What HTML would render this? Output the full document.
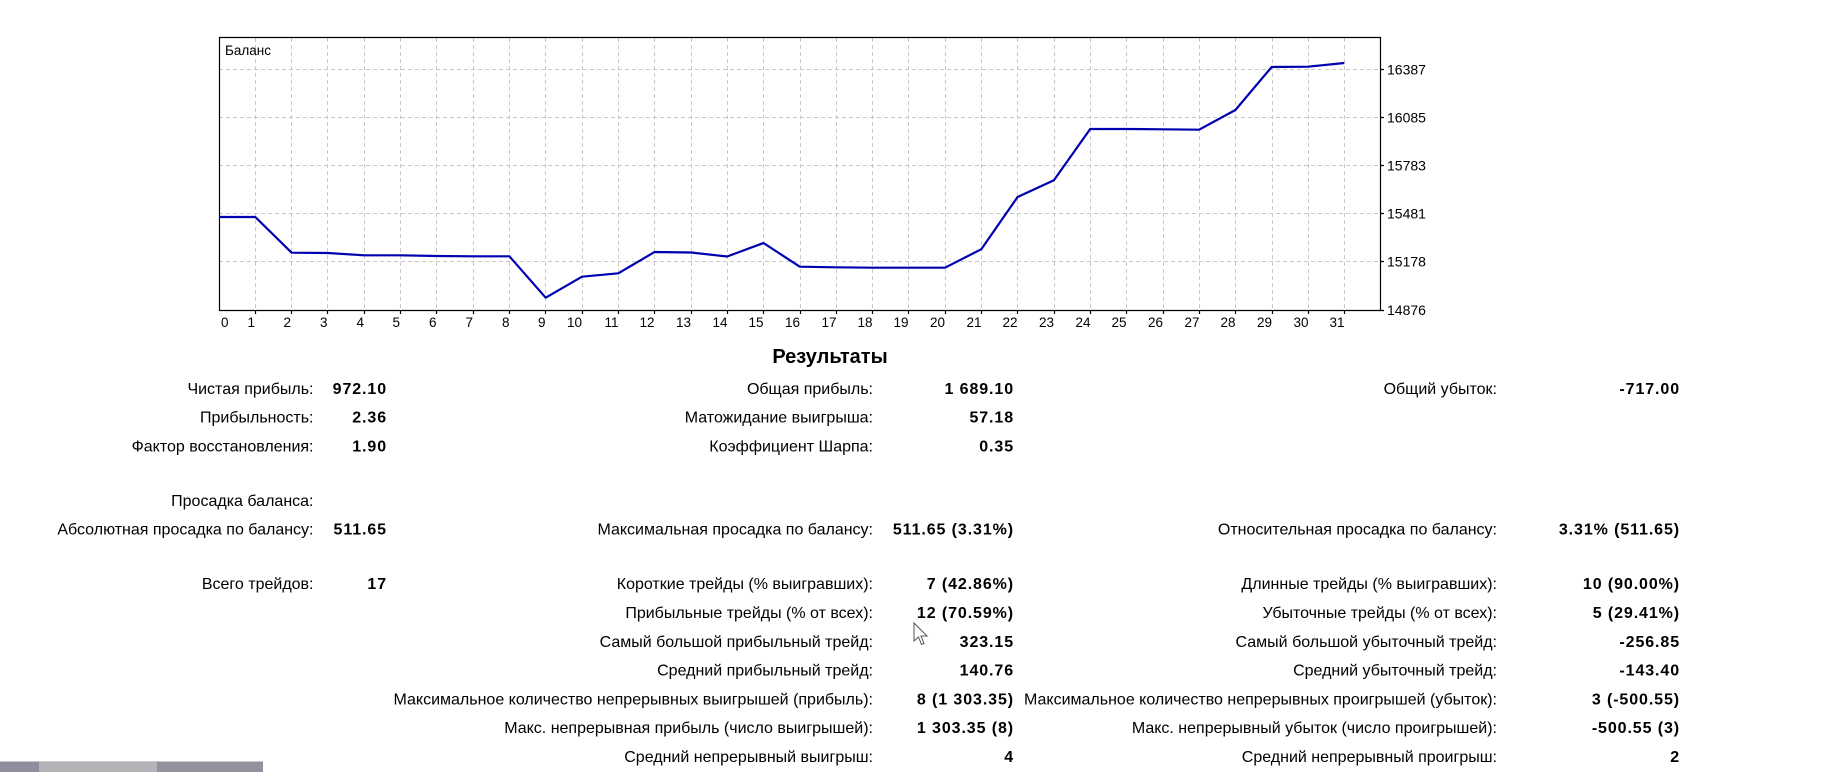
<!DOCTYPE html>
<html><head><meta charset="utf-8">
<style>
html,body{margin:0;padding:0;background:#fff;}
svg{display:block;}
text{font-family:"Liberation Sans","DejaVu Sans",sans-serif;fill:#000;}
.lb{font-size:16px;text-anchor:end;}
.vl{font-size:16px;font-weight:bold;text-anchor:end;letter-spacing:0.9px;}
.xl{font-size:13.5px;text-anchor:end;}
.yl{font-size:14px;}
</style></head>
<body>
<svg width="1843" height="772" viewBox="0 0 1843 772" xmlns="http://www.w3.org/2000/svg">
<rect width="1843" height="772" fill="#fff"/>
<!-- grid -->
<g stroke="#c8c8c8" stroke-width="1" stroke-dasharray="4 3" fill="none">
<path d="M219 69.5H1380M219 117.5H1380M219 165.5H1380M219 213.5H1380M219 261.5H1380"/>
<path d="M255.5 38V310M291.5 38V310M327.5 38V310M364.5 38V310M400.5 38V310M436.5 38V310M473.5 38V310M509.5 38V310M545.5 38V310M582.5 38V310M618.5 38V310M654.5 38V310M691.5 38V310M727.5 38V310M763.5 38V310M800.5 38V310M836.5 38V310M872.5 38V310M908.5 38V310M945.5 38V310M981.5 38V310M1017.5 38V310M1054.5 38V310M1090.5 38V310M1126.5 38V310M1163.5 38V310M1199.5 38V310M1235.5 38V310M1272.5 38V310M1308.5 38V310M1344.5 38V310"/>
</g>
<!-- frame -->
<g stroke="#000" stroke-width="1.2" fill="none">
<path d="M219.5 37.5H1380.5V310.5H219.5Z"/>
<path d="M255.5 310V314M291.5 310V314M327.5 310V314M364.5 310V314M400.5 310V314M436.5 310V314M473.5 310V314M509.5 310V314M545.5 310V314M582.5 310V314M618.5 310V314M654.5 310V314M691.5 310V314M727.5 310V314M763.5 310V314M800.5 310V314M836.5 310V314M872.5 310V314M908.5 310V314M945.5 310V314M981.5 310V314M1017.5 310V314M1054.5 310V314M1090.5 310V314M1126.5 310V314M1163.5 310V314M1199.5 310V314M1235.5 310V314M1272.5 310V314M1308.5 310V314M1344.5 310V314"/>
<path d="M1380 69.5H1384M1380 117.5H1384M1380 165.5H1384M1380 213.5H1384M1380 261.5H1384M1380 310.5H1384"/>
</g>
<text x="225" y="55" style="font-size:13.5px">Баланс</text>
<!-- line -->
<polyline fill="none" stroke="#0000b0" stroke-width="2.2" stroke-linejoin="round" points="219,217 255.3,217 291.6,252.7 327.9,253 364.2,255.3 400.5,255.3 436.8,256 473.1,256.3 509.4,256.3 545.7,297.7 582,276.7 618.3,273.3 654.6,252 690.9,252.5 727.2,256.5 763.5,243 799.8,266.7 836.1,267.3 872.4,267.7 908.7,267.7 945,267.7 981.3,249.2 1017.6,197 1053.9,180.3 1090.2,129 1126.5,129 1162.8,129.3 1199.1,129.7 1235.4,110 1271.7,67 1308,66.7 1344.3,63"/>
<!-- y labels -->
<g class="yl">
<text x="1387" y="74.5">16387</text>
<text x="1387" y="122.5">16085</text>
<text x="1387" y="170.5">15783</text>
<text x="1387" y="218.5">15481</text>
<text x="1387" y="266.5">15178</text>
<text x="1387" y="315">14876</text>
</g>
<!-- x labels -->
<g class="xl">
<text x="221" y="327" style="text-anchor:start">0</text>
<text x="255" y="327">1</text><text x="291" y="327">2</text><text x="327.5" y="327">3</text><text x="364" y="327">4</text><text x="400" y="327">5</text><text x="436.5" y="327">6</text><text x="473" y="327">7</text><text x="509.5" y="327">8</text><text x="545.5" y="327">9</text><text x="582" y="327">10</text><text x="618.5" y="327">11</text><text x="654.5" y="327">12</text><text x="691" y="327">13</text><text x="727.5" y="327">14</text><text x="763.5" y="327">15</text><text x="800" y="327">16</text><text x="836.5" y="327">17</text><text x="872.5" y="327">18</text><text x="908.5" y="327">19</text><text x="945" y="327">20</text><text x="981.5" y="327">21</text><text x="1017.5" y="327">22</text><text x="1054" y="327">23</text><text x="1090.5" y="327">24</text><text x="1126.5" y="327">25</text><text x="1163" y="327">26</text><text x="1199.5" y="327">27</text><text x="1235.5" y="327">28</text><text x="1272" y="327">29</text><text x="1308.5" y="327">30</text><text x="1344.5" y="327">31</text>
</g>
<!-- title -->
<text x="830" y="363" style="font-size:20px;font-weight:bold;text-anchor:middle">Результаты</text>
<!-- col1 -->
<g class="lb">
<text x="313.5" y="394">Чистая прибыль:</text>
<text x="313.5" y="422.5">Прибыльность:</text>
<text x="313.5" y="451.5">Фактор восстановления:</text>
<text x="313.5" y="506">Просадка баланса:</text>
<text x="313.5" y="534.5">Абсолютная просадка по балансу:</text>
<text x="313.5" y="589">Всего трейдов:</text>
</g>
<g class="vl">
<text x="387" y="394">972.10</text>
<text x="387" y="422.5">2.36</text>
<text x="387" y="451.5">1.90</text>
<text x="387" y="534.5">511.65</text>
<text x="387" y="589">17</text>
</g>
<!-- col2 -->
<g class="lb">
<text x="873" y="394">Общая прибыль:</text>
<text x="873" y="422.5">Матожидание выигрыша:</text>
<text x="873" y="451.5">Коэффициент Шарпа:</text>
<text x="873" y="534.5">Максимальная просадка по балансу:</text>
<text x="873" y="589">Короткие трейды (% выигравших):</text>
<text x="873" y="618">Прибыльные трейды (% от всех):</text>
<text x="873" y="647">Самый большой прибыльный трейд:</text>
<text x="873" y="675.5">Средний прибыльный трейд:</text>
<text x="873" y="704.5">Максимальное количество непрерывных выигрышей (прибыль):</text>
<text x="873" y="733">Макс. непрерывная прибыль (число выигрышей):</text>
<text x="873" y="762">Средний непрерывный выигрыш:</text>
</g>
<g class="vl">
<text x="1014" y="394">1 689.10</text>
<text x="1014" y="422.5">57.18</text>
<text x="1014" y="451.5">0.35</text>
<text x="1014" y="534.5">511.65 (3.31%)</text>
<text x="1014" y="589">7 (42.86%)</text>
<text x="1014" y="618">12 (70.59%)</text>
<text x="1014" y="647">323.15</text>
<text x="1014" y="675.5">140.76</text>
<text x="1014" y="704.5">8 (1 303.35)</text>
<text x="1014" y="733">1 303.35 (8)</text>
<text x="1014" y="762">4</text>
</g>
<!-- col3 -->
<g class="lb">
<text x="1497" y="394">Общий убыток:</text>
<text x="1497" y="534.5">Относительная просадка по балансу:</text>
<text x="1497" y="589">Длинные трейды (% выигравших):</text>
<text x="1497" y="618">Убыточные трейды (% от всех):</text>
<text x="1497" y="647">Самый большой убыточный трейд:</text>
<text x="1497" y="675.5">Средний убыточный трейд:</text>
<text x="1497" y="704.5">Максимальное количество непрерывных проигрышей (убыток):</text>
<text x="1497" y="733">Макс. непрерывный убыток (число проигрышей):</text>
<text x="1497" y="762">Средний непрерывный проигрыш:</text>
</g>
<g class="vl">
<text x="1680" y="394">-717.00</text>
<text x="1680" y="534.5">3.31% (511.65)</text>
<text x="1680" y="589">10 (90.00%)</text>
<text x="1680" y="618">5 (29.41%)</text>
<text x="1680" y="647">-256.85</text>
<text x="1680" y="675.5">-143.40</text>
<text x="1680" y="704.5">3 (-500.55)</text>
<text x="1680" y="733">-500.55 (3)</text>
<text x="1680" y="762">2</text>
</g>
<!-- cursor -->
<polygon points="914,623 914,641 918.5,637 921.5,644.5 924,643.5 921,636 927,636" fill="#fff" stroke="#555" stroke-width="1"/>
<!-- bottom bar -->
<rect x="0" y="761" width="40" height="11" fill="#8e8e9c"/>
<rect x="39" y="761" width="118" height="11" fill="#b4b4b8"/>
<rect x="157" y="761" width="106" height="11" fill="#92929f"/>
<rect x="0" y="761" width="263" height="1" fill="#c8c8cc"/>
</svg>
</body></html>
